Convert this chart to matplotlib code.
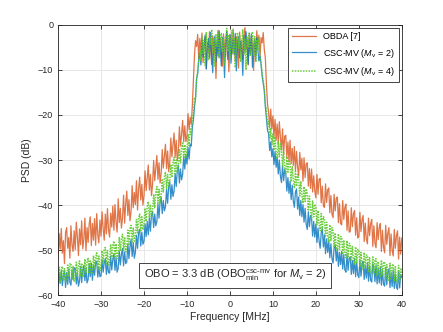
import numpy as np
import matplotlib
matplotlib.use("Agg")
import matplotlib.pyplot as plt

plt.rcParams['font.family'] = ['Liberation Sans', 'DejaVu Sans']
plt.rcParams['mathtext.fontset'] = 'custom'
plt.rcParams['mathtext.rm'] = 'Liberation Sans'
plt.rcParams['mathtext.it'] = 'Liberation Sans:italic'

# Frequency grid (MHz), 0.25 MHz spacing
freq = np.linspace(-40, 40, 321)

# OBDA [7]  (dB)
obda_left = [
    -52.1, -46.3, -49.8, -45.2, -50.7, -47.9, -53.0, -46.1, -45.0, -49.6, -47.2, -51.8,
    -44.6, -48.9, -50.3, -45.7, -49.9, -43.8, -47.0, -51.2, -45.3, -48.8, -43.5, -49.7,
    -47.6, -42.9, -50.1, -45.0, -48.3, -44.2, -42.6, -49.0, -44.1, -47.8, -43.0, -48.9,
    -41.9, -46.6, -48.4, -43.3, -46.9, -41.5, -45.2, -47.8, -42.0, -46.4, -40.8, -45.5,
    -47.1, -41.8, -44.9, -40.2, -45.6, -39.9, -43.8, -46.0, -38.6, -43.9, -40.7, -45.1,
    -42.9, -37.8, -44.0, -39.6, -36.9, -42.3, -38.8, -43.5, -41.4, -35.7, -40.6, -37.2,
    -39.9, -34.6, -41.1, -36.3, -33.8, -38.9, -35.4, -40.0, -37.9, -32.4, -36.8, -34.0,
    -31.1, -36.7, -33.2, -37.9, -35.4, -30.1, -34.6, -31.7, -29.0, -34.3, -30.6, -35.1,
    -32.9, -27.7, -31.8, -29.2, -26.5, -31.9, -28.0, -32.6, -30.6, -25.1, -29.3, -26.7,
    -24.0, -29.4, -25.6, -30.2, -28.1, -22.6, -26.9, -24.3, -21.2, -26.0, -22.4, -25.9,
    -24.6, -19.7, -23.3, -20.5, -22.1, -18.0, -12.5, -6.8]
obda_mid = [
    -3.5, -4.8, -2.1, -7.6, -3.0, -5.9, -1.8, -8.4, -4.2, -2.6, -9.7, -3.9,
    -6.1, -1.5, -5.0, -8.8, -2.4, -6.6, -3.7, -11.9, -4.5, -1.2, -7.3, -3.1,
    -5.8, -9.2, -2.0, -4.9, -7.0, -1.4, -3.8, -10.4, -4.6, -2.2, -6.4, -0.9,
    -5.3, -8.1, -2.7, -4.3, -9.6, -1.6, -6.0, -3.4, -7.7, -2.9, -0.6, -5.6,
    -3.2, -8.9, -1.9, -6.3, -2.5, -4.7, -10.1, -3.0, -6.8, -1.3, -4.4, -2.3,
    -7.2, -2.8, -4.0, -1.7, -5.5]
obda_right = [
    -7.4, -13.3, -17.6,
    -19.4, -22.8, -18.7, -23.1, -20.2, -24.9, -21.0, -25.6, -22.0, -26.4, -21.5, -24.9,
    -27.8, -23.1, -28.6, -24.7, -24.5, -29.5, -26.0, -30.4, -25.6, -30.8, -27.4, -31.2,
    -27.0, -32.4, -28.1, -31.6, -33.5, -28.3, -32.2, -29.6, -34.7, -29.5, -33.9, -30.8,
    -30.6, -35.8, -31.9, -36.3, -32.0, -37.1, -33.5, -36.9, -38.4, -33.2, -37.6, -34.3,
    -34.1, -39.5, -35.8, -40.2, -40.5, -35.3, -39.4, -36.6, -36.2, -41.7, -37.9, -42.0,
    -42.8, -37.6, -41.3, -38.5, -38.2, -43.9, -39.7, -44.1, -44.4, -39.0, -43.2, -40.5,
    -39.8, -45.6, -41.3, -46.0, -45.9, -40.6, -44.8, -42.0, -41.2, -46.7, -42.8, -47.3,
    -47.0, -41.6, -45.9, -43.2, -42.3, -48.1, -44.0, -47.6, -48.6, -42.9, -46.8, -44.1,
    -43.2, -49.2, -44.6, -48.5, -49.5, -43.9, -47.7, -45.0, -44.1, -50.3, -45.6, -49.4,
    -50.6, -44.5, -48.7, -46.2, -45.0, -51.2, -46.4, -50.1, -51.3, -45.4, -49.6, -46.8,
    -45.7, -52.0, -47.1, -50.9, -47.3]

# CSC-MV (Mv = 2)  (dB)
mv2_left = [
    -58.0, -55.1, -57.4, -54.6, -57.9, -55.7, -54.5, -58.3, -55.0, -57.6, -54.2, -57.1,
    -57.8, -54.4, -56.6, -53.9, -54.1, -57.5, -55.0, -58.0, -56.9, -53.6, -57.2, -54.5,
    -53.4, -56.8, -54.0, -57.3, -56.5, -53.0, -55.9, -52.9, -56.7, -53.3, -55.6, -52.6,
    -52.5, -56.0, -53.8, -55.9, -55.7, -52.1, -54.9, -52.8, -51.9, -55.4, -52.7, -55.0,
    -55.1, -51.3, -54.4, -52.0, -50.8, -54.5, -51.6, -54.9, -54.0, -50.2, -53.3, -50.9,
    -49.6, -53.5, -50.4, -53.0, -52.6, -48.6, -51.9, -49.2, -47.6, -51.4, -48.3, -51.8,
    -50.5, -46.7, -49.6, -46.1, -45.4, -49.1, -46.0, -48.7, -48.1, -44.2, -47.0, -43.6,
    -46.6, -42.9, -45.8, -42.1, -41.4, -45.0, -42.0, -44.6, -43.7, -39.8, -42.9, -39.2,
    -38.3, -41.9, -39.0, -41.3, -40.4, -36.5, -39.6, -35.9, -34.8, -38.7, -35.5, -38.1,
    -36.9, -33.0, -35.9, -32.4, -31.1, -35.1, -32.0, -34.4, -33.2, -29.1, -32.0, -28.8,
    -30.9, -27.2, -29.8, -26.5, -26.9, -22.8, -21.1, -18.3, -16.2, -11.9, -10.8, -7.6]
mv2_mid = [
    -6.2, -8.9, -3.4, -7.1, -4.6, -2.2, -9.8, -5.3, -3.0, -7.4, -1.7, -6.0,
    -10.6, -4.1, -2.5, -8.2, -3.6, -6.9, -1.3, -5.4, -9.1, -2.8, -4.8, -11.7,
    -3.9, -1.6, -7.7, -4.4, -2.1, -8.5, -5.1, -3.3, -6.6, -1.9, -10.2, -4.0,
    -2.6, -7.3, -3.7, -5.8, -11.2, -2.4, -6.1, -1.5, -4.5, -8.7, -3.1, -6.4,
    -2.0, -9.4, -4.9, -3.5, -7.8, -2.9, -5.6, -8.0, -6.9]
mv2_right = [
    -8.8, -11.3, -12.9,
    -14.6, -18.2, -20.9, -23.4, -24.1, -27.9, -26.0, -29.3, -27.5, -31.0, -28.1, -31.6,
    -29.3, -33.1, -30.0, -33.6, -35.0, -31.2, -34.6, -32.1, -33.1, -36.9, -33.9, -37.4,
    -34.7, -38.8, -35.6, -39.1, -40.5, -37.1, -36.4, -40.9, -38.2, -42.3, -39.0, -42.6,
    -39.9, -43.8, -40.7, -44.3, -45.4, -41.5, -44.8, -42.3, -42.8, -46.9, -43.6, -47.1,
    -44.2, -48.3, -45.1, -48.0, -49.6, -46.1, -45.2, -49.3, -46.6, -50.8, -47.5, -50.5,
    -47.9, -51.7, -48.6, -51.9, -52.9, -49.4, -48.8, -52.4, -49.6, -53.6, -50.5, -53.2,
    -50.3, -54.2, -51.0, -54.4, -54.9, -50.9, -54.5, -51.7, -51.5, -55.4, -52.3, -55.2,
    -51.8, -55.9, -52.6, -55.5, -56.1, -52.3, -55.8, -53.0, -52.5, -56.5, -53.4, -56.2,
    -52.8, -56.9, -53.6, -56.7, -57.1, -53.0, -54.0, -57.0, -53.4, -57.5, -54.2, -57.3,
    -53.7, -57.8, -54.5, -57.6, -58.0, -53.9, -57.7, -54.8, -54.2, -58.3, -55.0, -58.1,
    -54.4, -58.5, -55.3, -58.2, -58.7, -54.6, -58.4, -55.4, -56.1]

# CSC-MV (Mv = 4)  (dB)
mv4_left = [
    -56.9, -53.8, -57.2, -54.4, -53.6, -56.8, -54.1, -57.0, -56.6, -53.3, -55.9, -53.1,
    -52.9, -56.4, -53.6, -56.9, -56.3, -52.7, -55.8, -53.4, -52.4, -55.9, -52.9, -56.0,
    -55.6, -52.0, -55.0, -52.6, -51.7, -55.2, -52.2, -55.3, -54.9, -51.2, -54.1, -51.6,
    -50.6, -54.3, -51.3, -54.5, -53.7, -50.1, -53.0, -49.9, -49.4, -53.0, -50.1, -53.3,
    -52.4, -48.7, -51.6, -48.9, -48.0, -51.7, -48.6, -51.9, -50.9, -47.2, -50.2, -47.5,
    -46.5, -50.1, -47.1, -50.4, -49.4, -45.6, -48.7, -45.2, -44.5, -48.2, -45.1, -48.0,
    -46.9, -43.2, -46.2, -42.8, -42.0, -45.7, -42.6, -45.5, -44.4, -40.7, -43.6, -40.4,
    -39.2, -42.9, -39.9, -42.6, -41.3, -37.6, -40.6, -37.1, -35.9, -39.6, -36.5, -39.4,
    -37.9, -34.2, -37.1, -33.8, -32.6, -36.3, -33.2, -36.0, -34.7, -31.0, -33.9, -30.6,
    -29.4, -33.1, -30.0, -32.8, -31.4, -27.7, -30.6, -27.3, -26.0, -29.7, -26.6, -29.4,
    -27.9, -24.2, -26.8, -23.1, -24.6, -20.2, -19.8, -16.1, -16.4, -12.0, -10.1, -8.0]
mv4_mid = [
    -5.5, -8.0, -2.6, -6.3, -3.4, -9.0, -1.6, -5.1, -7.9, -2.9, -4.3, -1.0,
    -6.4, -3.0, -9.3, -2.2, -4.7, -1.4, -7.2, -3.5, -1.9, -6.0, -2.7, -8.8,
    -4.0, -0.8, -5.9, -2.4, -7.5, -3.1, -1.2, -6.2, -2.8, -9.5, -4.2, -1.7,
    -5.3, -2.3, -8.1, -3.8, -1.1, -6.7, -3.2, -10.0, -2.5, -5.0, -1.8, -7.0,
    -3.9, -1.5, -6.8, -2.6, -8.3, -3.3, -5.7, -2.9, -7.2]
mv4_right = [
    -8.4, -11.0, -12.3,
    -14.2, -17.8, -18.6, -22.1, -21.4, -25.3, -23.0, -26.6, -24.1, -27.9, -24.8, -28.3,
    -29.7, -26.0, -29.3, -26.4, -27.6, -31.4, -28.3, -31.6, -33.1, -29.3, -32.7, -30.0,
    -30.9, -34.8, -31.5, -34.4, -36.3, -32.5, -35.9, -33.2, -34.1, -38.0, -34.7, -37.7,
    -39.6, -35.9, -39.2, -36.4, -37.5, -41.3, -38.0, -41.0, -42.9, -39.1, -42.6, -39.8,
    -40.6, -44.4, -41.2, -44.1, -45.7, -41.9, -45.5, -42.6, -43.1, -46.9, -43.8, -46.7,
    -48.2, -44.4, -47.9, -45.0, -45.6, -49.4, -46.2, -49.2, -50.2, -46.4, -49.9, -47.0,
    -47.1, -50.9, -47.8, -50.6, -51.7, -47.9, -51.4, -48.5, -48.6, -52.4, -49.2, -52.2,
    -53.1, -49.3, -52.8, -49.9, -49.9, -53.7, -50.5, -53.5, -54.3, -50.5, -54.0, -51.1,
    -51.1, -54.9, -51.7, -54.7, -55.3, -51.5, -55.0, -52.1, -51.9, -55.7, -52.5, -55.5,
    -56.0, -52.2, -55.7, -52.8, -52.6, -56.4, -53.2, -56.2, -56.7, -52.9, -56.4, -53.5,
    -53.1, -56.9, -53.7, -56.7, -57.2, -53.4, -56.9, -54.0, -55.4]

obda = obda_left + obda_mid + obda_right
mv2 = mv2_left + mv2_mid + mv2_right
mv4 = mv4_left + mv4_mid + mv4_right

labels = ['OBDA [7]', r'CSC-MV ($M_\mathrm{v}$ = 2)', r'CSC-MV ($M_\mathrm{v}$ = 4)']
xticks = [-40, -30, -20, -10, 0, 10, 20, 30, 40]
yticks = [-60, -50, -40, -30, -20, -10, 0]

fig = plt.figure(figsize=(4.43, 3.32), dpi=100)
ax = fig.add_axes([0.131, 0.111, 0.776, 0.814])

ax.plot(freq, obda, color='#D95319', lw=0.9, alpha=0.8, label=labels[0])
ax.plot(freq, mv2, color='#0072BD', lw=0.9, alpha=0.8, label=labels[1])
ax.plot(freq, mv4, color='#5DC92A', lw=1.1, alpha=0.9, ls=(0, (1, 0.8)), label=labels[2])

ax.set_xlim(-40, 40)
ax.set_ylim(-60, 0)
ax.set_xticks(xticks)
ax.set_yticks(yticks)
ax.tick_params(direction='in', top=True, right=True, labelsize=6.5,
               colors='#262626', length=3, width=0.6)
ax.grid(True, color='#e3e3e3', lw=0.6)
ax.set_axisbelow(True)
for s in ax.spines.values():
    s.set_color('#262626')
    s.set_linewidth(0.6)

ax.set_xlabel('Frequency [MHz]', fontsize=7.5, color='#262626', labelpad=2)
ax.set_ylabel('PSD (dB)', fontsize=7.5, color='#262626', labelpad=4)

leg = ax.legend(loc='upper right', fontsize=6.5, frameon=True, fancybox=False,
                edgecolor='#262626', framealpha=1, borderaxespad=0.3,
                handlelength=2.6, labelspacing=0.6, borderpad=0.5)
leg.get_frame().set_linewidth(0.6)

ax.text(1.2, -55.7, r'OBO = 3.3 dB (OBO$^{\mathrm{csc\text{-}mv}}_{\mathrm{min}}$ for $M_\mathrm{v}$ = 2)',
        ha='center', va='center', fontsize=8, color='#262626',
        bbox=dict(boxstyle='square,pad=0.45', fc='white', ec='#262626', lw=0.6))

fig.savefig('out.png', dpi=100)
